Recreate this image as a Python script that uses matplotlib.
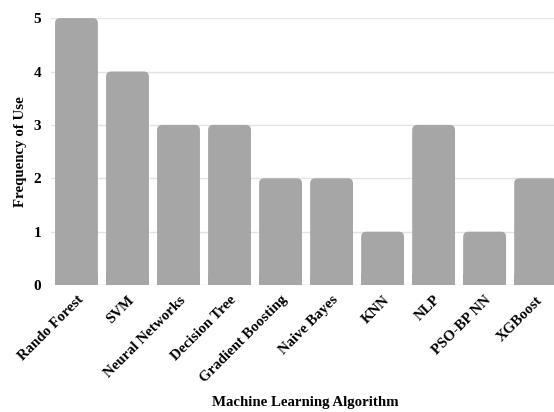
import numpy as np
import matplotlib.pyplot as plt
from matplotlib.patches import FancyBboxPatch, Rectangle

algorithms = ['Rando Forest', 'SVM', 'Neural Networks', 'Decision Tree', 'Gradient Boosting',
              'Naive Bayes', 'KNN', 'NLP', 'PSO-BP NN', 'XGBoost']
frequency = [5, 4, 3, 3, 2, 2, 1, 3, 1, 2]
yticks = [0, 1, 2, 3, 4, 5]

plt.rcParams['font.family'] = ['Liberation Serif', 'DejaVu Serif']
plt.rcParams['font.weight'] = 'bold'

fig = plt.figure(figsize=(5.54, 4.12), dpi=100)
ax = fig.add_axes([0.092, 0.308, 0.908, 0.648])

bar_color = '#a6a6a6'
width = 0.84
r = 0.1
for i, v in enumerate(frequency):
    x0 = i - width / 2
    ax.add_patch(FancyBboxPatch((x0, 0), width, v,
                                boxstyle='round,pad=0,rounding_size=%f' % r,
                                mutation_aspect=0.95, fc=bar_color, ec='none', zorder=3))
    # square off the bottom corners
    ax.add_patch(Rectangle((x0, 0), width, 0.2, fc=bar_color, ec='none', zorder=3))

ax.set_xlim(-0.5, 9.36)
ax.set_ylim(0, 5)
ax.set_yticks(yticks)
ax.set_yticklabels([str(t) for t in yticks], fontsize=11, fontweight='bold')
ax.set_xticks(np.arange(len(algorithms)))
ax.set_xticklabels(algorithms, rotation=45, ha='right', rotation_mode='anchor',
                   fontsize=10.7, fontweight='bold')
ax.tick_params(axis='both', length=0)
ax.tick_params(axis='y', pad=7)
ax.tick_params(axis='x', pad=6)
ax.grid(axis='y', color='#e3e3e3', linewidth=1, zorder=0)
for s in ax.spines.values():
    s.set_visible(False)

ax.set_ylabel('Frequency of Use', fontsize=10.7, fontweight='bold', labelpad=5)
fig.text(0.552, 0.022, 'Machine Learning Algorithm', ha='center', va='center',
         fontsize=10.7, fontweight='bold')

fig.savefig('out.png', dpi=100)
